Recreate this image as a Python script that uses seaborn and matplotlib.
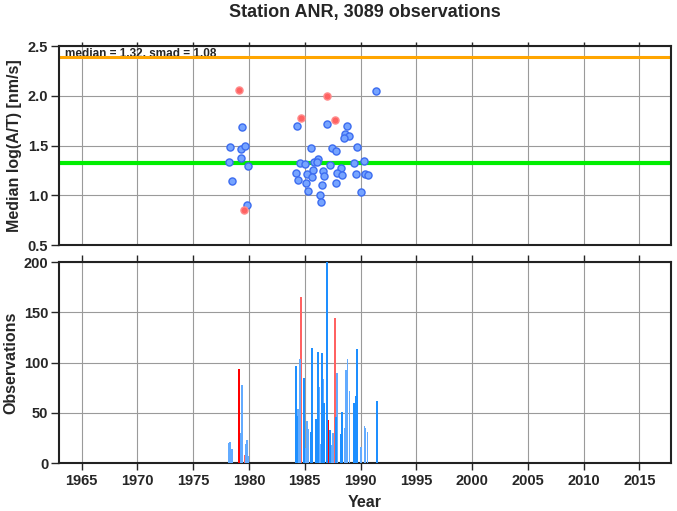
import numpy as np
import pandas as pd
import seaborn as sns
import matplotlib.pyplot as plt

# yearly median log(A/T) per session
pt_year = [1979.08, 1987.04, 1984.71, 1987.73, 1979.59,
           1991.43, 1979.41, 1978.34, 1979.26, 1979.68, 1979.32, 1978.25, 1979.92,
           1978.49, 1979.83, 1984.29, 1986.98, 1988.80, 1988.65, 1989.01, 1988.53,
           1985.54, 1987.46, 1987.82, 1989.67, 1984.62, 1984.98, 1985.87, 1986.20,
           1986.11, 1987.25, 1988.27, 1989.40, 1990.33, 1984.23, 1985.22, 1985.72,
           1986.65, 1987.91, 1988.36, 1989.58, 1990.42, 1990.63, 1984.38, 1985.63,
           1986.74, 1985.13, 1987.77, 1986.56, 1985.31, 1986.41, 1990.00, 1986.50]
pt_value = [2.055, 2.00, 1.78, 1.76, 0.85,
            2.045, 1.685, 1.49, 1.47, 1.50, 1.375, 1.338, 1.295,
            1.144, 0.90, 1.70, 1.718, 1.70, 1.612, 1.592, 1.579,
            1.48, 1.48, 1.444, 1.487, 1.322, 1.315, 1.332, 1.365,
            1.332, 1.302, 1.279, 1.328, 1.345, 1.226, 1.213, 1.256,
            1.246, 1.226, 1.206, 1.213, 1.210, 1.200, 1.153, 1.18,
            1.19, 1.127, 1.127, 1.10, 1.048, 1.002, 1.035, 0.932]
pt_flag = ["outlier"] * 5 + ["ok"] * 48

# observations per month
bar_year = [1978.20, 1978.29, 1978.50, 1979.10, 1979.28, 1979.40, 1979.61, 1979.70,
            1979.85, 1979.94, 1984.25, 1984.31, 1984.37, 1984.61, 1984.70, 1984.97,
            1985.12, 1985.24, 1985.33, 1985.60, 1985.69, 1985.99, 1986.20, 1986.32,
            1986.44, 1986.56, 1986.62, 1986.71, 1986.98, 1987.10, 1987.25, 1987.43,
            1987.51, 1987.75, 1987.84, 1987.93, 1988.29, 1988.38, 1988.59, 1988.68,
            1988.83, 1989.01, 1989.40, 1989.55, 1989.67, 1990.03, 1990.36, 1990.45,
            1990.63, 1991.47]
bar_count = [20, 21, 14, 94, 30, 78, 8, 19,
             23, 7, 97, 47, 54, 104, 165, 85,
             15, 42, 34, 31, 115, 44, 111, 76,
             19, 110, 84, 60, 200, 43, 33, 18,
             30, 144, 46, 90, 29, 51, 35, 93,
             104, 72, 60, 67, 114, 16, 37, 35,
             31, 62]
bar_kind = ["partial", "partial", "partial", "outlier", "partial", "partial", "outlier2", "partial",
            "partial", "partial", "used", "used", "partial", "partial", "outlier2", "used",
            "partial", "partial", "partial", "used", "used", "used", "used", "partial",
            "partial", "used", "partial", "used", "used", "outlier", "used", "partial",
            "partial", "outlier2", "used", "partial", "used", "used", "partial", "partial",
            "partial", "partial", "used", "used", "used", "partial", "partial", "partial",
            "partial", "used"]

median_val = 1.32
smad_val = 1.08
upper_val = 2.39
n_obs = 3089

pts = pd.DataFrame({"year": pt_year, "value": pt_value, "flag": pt_flag})
bars = pd.DataFrame({"year": bar_year, "count": bar_count, "kind": bar_kind})

sns.set_style("ticks")
plt.rcParams['font.family'] = ['Liberation Sans', 'DejaVu Sans']
plt.rcParams['font.weight'] = 'bold'

fig = plt.figure(figsize=(6.77, 5.11), dpi=100)
ax1 = fig.add_axes([0.0876, 0.5205, 0.903, 0.3894])
ax2 = fig.add_axes([0.0876, 0.0939, 0.903, 0.393])

grid_kw = dict(color="#9a9a9a", linewidth=0.8)
for ax in (ax1, ax2):
    ax.set_xlim(1963, 2017.8)
    ax.set_xticks(np.arange(1965, 2016, 5))
    ax.grid(True, **grid_kw)
    ax.set_axisbelow(True)
    for s in ax.spines.values():
        s.set_linewidth(1.5)
        s.set_color("#222222")
        s.set_visible(True)
    ax.tick_params(axis="y", direction="out", length=6, width=1, labelsize=10.5, pad=2)

# top panel
ax1.set_ylim(0.5, 2.5)
ax1.set_yticks([0.5, 1.0, 1.5, 2.0, 2.5])
ax1.yaxis.set_major_formatter(plt.FormatStrFormatter("%.1f"))
ax1.tick_params(axis="x", top=True, bottom=False, labelbottom=False, length=3, width=1)
ax1.text(0.01, 0.988, "median = %.2f, smad = %.2f" % (median_val, smad_val),
         transform=ax1.transAxes, ha="left", va="top", fontsize=8.5, zorder=1)
ax1.axhline(median_val, color="#00ee00", linewidth=3, zorder=2)
ax1.axhline(upper_val, color="#ffa500", linewidth=2.2, zorder=2)
sns.scatterplot(data=pts[pts.flag == "ok"], x="year", y="value", ax=ax1,
                color="#76a4ff", edgecolor="#3c6cf0", linewidth=1, s=26, zorder=3)
sns.scatterplot(data=pts[pts.flag == "outlier"], x="year", y="value", ax=ax1,
                color="#ff6262", edgecolor="#ff8a8a", linewidth=1, s=26, zorder=3)
ax1.set_xlabel("")
ax1.set_ylabel("Median log(A/T) [nm/s]", fontsize=11.5, fontweight="bold", labelpad=4)
ax1.set_title("Station ANR, %d observations" % n_obs, fontsize=13, fontweight="bold", pad=21)

# bottom panel
palette = {"used": "#1e8fff", "partial": "#62abff", "outlier": "#ff0000", "outlier2": "#ff6262"}
for kind, grp in bars.groupby("kind"):
    ax2.bar(grp["year"], grp["count"], width=0.17, color=palette[kind], linewidth=0, zorder=3)
ax2.set_ylim(0, 200)
ax2.set_yticks([0, 50, 100, 150, 200])
ax2.tick_params(axis="x", top=True, bottom=True, direction="out", length=5, width=1,
                labelsize=10.5, pad=3)
ax2.set_xlabel("Year", fontsize=11.5, fontweight="bold", labelpad=5)
ax2.set_ylabel("Observations", fontsize=11.5, fontweight="bold", labelpad=4)

fig.savefig("out.png", dpi=100)
